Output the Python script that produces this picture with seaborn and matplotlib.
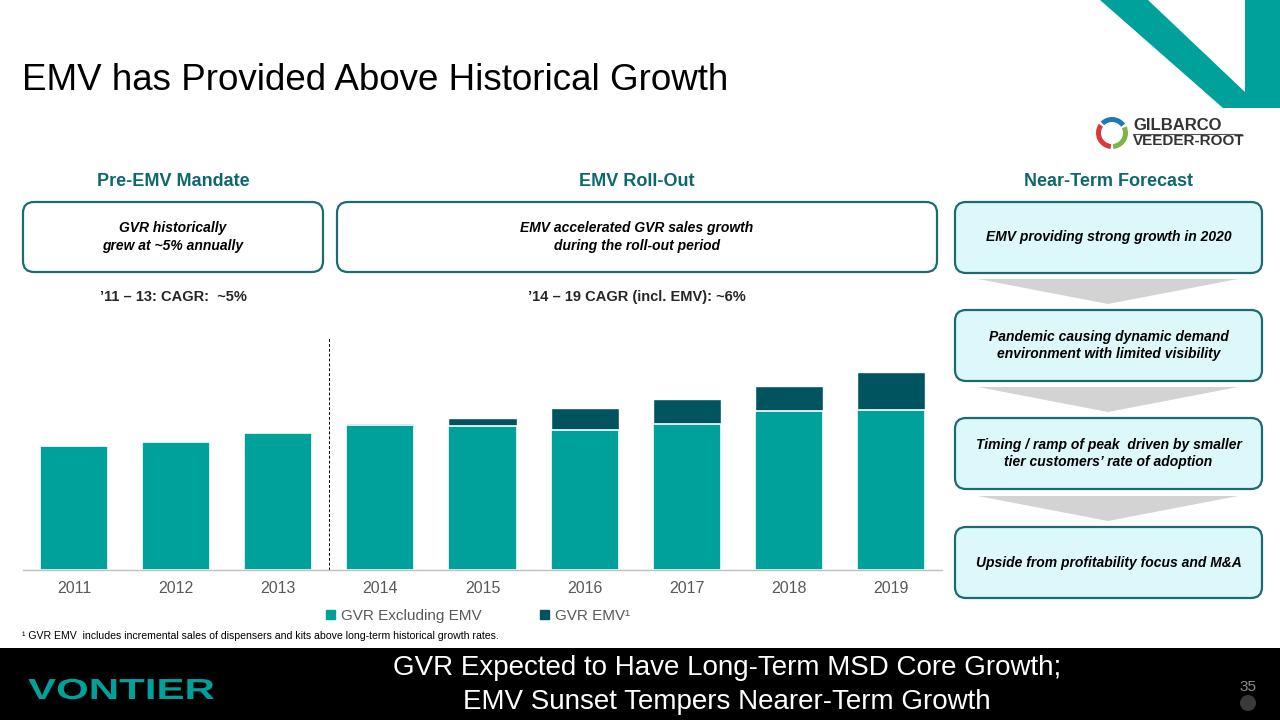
import seaborn as sns
import pandas as pd
import matplotlib.pyplot as plt
from matplotlib.patches import FancyBboxPatch, Polygon, Rectangle, Wedge, Circle, Patch, PathPatch
from matplotlib.textpath import TextPath
from matplotlib.font_manager import FontProperties
from matplotlib.transforms import Affine2D

years = ['2011', '2012', '2013', '2014', '2015', '2016', '2017', '2018', '2019']
gvr_ex_emv = [124, 128, 137, 145, 144, 140, 146, 159, 160]
gvr_emv = [0, 0, 0, 2, 8, 22, 25, 25, 38]

teal = '#00A19A'
dark = '#00545F'
head = '#0E6670'
border = '#1C6B70'

df = pd.DataFrame({'year': years, 'ex': gvr_ex_emv, 'emv': gvr_emv})
df['total'] = df['ex'] + df['emv']

sns.set_theme(style='white')
plt.rcParams['font.family'] = ['Liberation Sans', 'DejaVu Sans']

fig = plt.figure(figsize=(12.8, 7.2), dpi=100)

# background layer in pixel coords for slide decorations
bg = fig.add_axes([0, 0, 1, 1], zorder=0)
bg.set_xlim(0, 1280)
bg.set_ylim(720, 0)
bg.axis('off')

# top-right accent
bg.add_patch(Polygon([(1100, 0), (1280, 0), (1280, 108), (1223, 108)], color=teal, lw=0))
bg.add_patch(Polygon([(1148, 0), (1245, 0), (1245, 92)], color='white', lw=0))

# Gilbarco logo
for a1, a2, c in [(95, 215, '#D9363E'), (335, 85, '#7DB544'), (225, 325, '#1F77B4')]:
    bg.add_patch(Wedge((1112, 133), 16, a1, a2, width=5, color=c, lw=0))
bg.text(1133, 125, 'GILBARCO', fontsize=12, fontweight='bold', color='#333333', va='center')
bg.plot([1133, 1242], [133.5, 133.5], color='#555555', lw=0.8)
bg.text(1133, 141, 'VEEDER-ROOT', fontsize=11, fontweight='bold', color='#333333', va='center')

bg.text(22, 80, 'EMV has Provided Above Historical Growth', fontsize=26.5, color='black', va='center')

# section headers
for x, s in [(173, 'Pre-EMV Mandate'), (637, 'EMV Roll-Out'), (1108, 'Near-Term Forecast')]:
    bg.text(x, 181, s, fontsize=13, fontweight='bold', color=head, ha='center', va='center')

def box(x0, y0, x1, y1, fill, text):
    bg.add_patch(FancyBboxPatch((x0, y0), x1 - x0, y1 - y0,
                                boxstyle='round,pad=0,rounding_size=11',
                                fc=fill, ec=border, lw=1.6))
    bg.text((x0 + x1) / 2, (y0 + y1) / 2, text, fontsize=10, fontweight='bold',
            fontstyle='italic', color='black', ha='center', va='center', linespacing=1.3)

box(23, 202, 323, 272, 'white', 'GVR historically\ngrew at ~5% annually')
box(337, 202, 937, 272, 'white', 'EMV accelerated GVR sales growth\nduring the roll-out period')

light = '#DDF8FB'
box(955, 202, 1262, 273, light, 'EMV providing strong growth in 2020')
box(955, 310, 1262, 381, light, 'Pandemic causing dynamic demand\nenvironment with limited visibility')
box(955, 418, 1262, 489, light, 'Timing / ramp of peak  driven by smaller\ntier customers\u2019 rate of adoption')
box(955, 527, 1262, 598, light, 'Upside from profitability focus and M&A')

for y in [279, 387, 496]:
    bg.add_patch(Polygon([(978, y), (1238, y), (1108, y + 25)], color='#D3D3D3', lw=0))

bg.text(173, 297, '\u201911 \u2013 13: CAGR:  ~5%', fontsize=10.5, fontweight='bold', ha='center', va='center')
bg.text(637, 297, '\u201914 \u2013 19 CAGR (incl. EMV): ~6%', fontsize=10.5, fontweight='bold', ha='center', va='center')

bg.text(22, 636, '\u00b9 GVR EMV  includes incremental sales of dispensers and kits above long-term historical growth rates.',
        fontsize=7.6, color='black', va='center')

# bottom band
bg.add_patch(Rectangle((0, 648), 1280, 72, color='black', lw=0))
bg.text(727, 685, 'GVR Expected to Have Long-Term MSD Core Growth;\nEMV Sunset Tempers Nearer-Term Growth',
        fontsize=20, color='white', ha='center', va='center', linespacing=1.4)
tp = TextPath((0, 0), 'VONTIER', size=29, prop=FontProperties(family='Liberation Sans', weight='bold'))
bg.add_patch(PathPatch(tp, color=teal, lw=0,
                       transform=Affine2D().scale(1.45, -1).translate(28, 699) + bg.transData))
bg.text(1248, 687, '35', fontsize=11, color='#8C8C8C', ha='center', va='center')
bg.add_patch(Circle((1248, 703), 8, color='#3A3A3A', lw=0))

# chart
ax = fig.add_axes([23 / 1280, 150 / 720, 919 / 1280, 240 / 720], zorder=1)
ax.patch.set_alpha(0)
sns.barplot(data=df, x='year', y='total', color=dark, saturation=1, width=0.667,
            errorbar=None, ax=ax)
sns.barplot(data=df, x='year', y='ex', color=teal, saturation=1, width=0.667,
            errorbar=None, ax=ax, edgecolor='white', linewidth=1.2)
ax.set_xlim(-0.5, 8.5)
ax.set_ylim(0, 240)
ax.axvline(2.5, ymin=0, ymax=(570 - 338) / 240, color='black', ls=(0, (3, 2)), lw=0.7)
ax.set_xlabel('')
ax.set_ylabel('')
ax.set_yticks([])
for s in ['top', 'left', 'right']:
    ax.spines[s].set_visible(False)
ax.spines['bottom'].set_color('#BFBFBF')
ax.spines['bottom'].set_linewidth(1)
ax.tick_params(axis='x', length=0, labelsize=11.5, labelcolor='#595959', pad=8)

handles = [Patch(color=teal), Patch(color=dark)]
fig.legend(handles, ['GVR Excluding EMV', 'GVR EMV\u00b9'], loc='center',
           bbox_to_anchor=(478 / 1280, 1 - 616 / 720), ncol=2, frameon=False,
           fontsize=11, labelcolor='#595959', handlelength=0.6, handleheight=0.6,
           handletextpad=0.4, columnspacing=3.8)

fig.savefig('out.png', dpi=100)
